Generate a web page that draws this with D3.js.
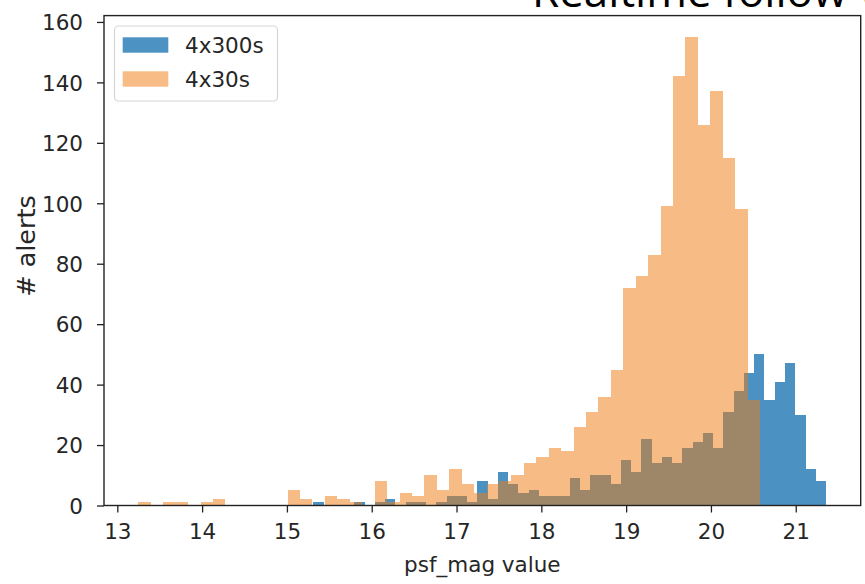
<!DOCTYPE html>
<html>
<head>
<meta charset="utf-8">
<script src="https://cdn.jsdelivr.net/npm/d3@7"></script>
<style>
  body { margin: 0; background: #fff; }
  svg { display: block; font-family: "DejaVu Sans", sans-serif; }
</style>
</head>
<body>
<div id="vis"></div>
<script>
// histogram data (matplotlib hist, 50 bins each)
var range300 = [15.312, 21.357];
var counts300 = [1, 0, 0, 0, 1, 0, 1, 2, 0, 1,
                 1, 0, 1, 3, 3, 1, 8, 2, 11, 7,
                 4, 5, 3, 3, 3, 9, 5, 10, 10, 7,
                 15, 11, 22, 14, 16, 14, 19, 21, 24, 19,
                 31, 38, 44, 50, 35, 41, 47, 30, 12, 8];

var range30 = [13.249, 20.579];
var counts30 = [1, 0, 1, 1, 0, 1, 2, 0, 0, 0,
                0, 0, 5, 2, 0, 3, 2, 1, 0, 8,
                1, 4, 3, 10, 5, 12, 7, 4, 7, 8,
                10, 14, 16, 19, 18, 26, 31, 36, 45, 72,
                76, 83, 99, 142, 155, 126, 137, 115, 98, 35];

var seriesNames = ['4x300s', '4x30s'];
var xTicks = [13, 14, 15, 16, 17, 18, 19, 20, 21];
var yTicks = [0, 20, 40, 60, 80, 100, 120, 140, 160];

var width = 865;
var height = 584;
var plot = {left: 104, top: 15.6, right: 860.7, bottom: 505.5};

// colours + alpha of the two series
var blue = '#1f77b4', blueAlpha = 0.8;
var orange = '#f17c10', orangeAlpha = 0.5;

var x = d3.scaleLinear().domain([12.843, 21.766]).range([plot.left, plot.right]);
var y = d3.scaleLinear().domain([0, 162.1]).range([plot.bottom, plot.top]);

// turn range + counts into bins
function makeBins(range, counts) {
    var w = (range[1] - range[0]) / counts.length;
    return counts.map(function (c, i) {
        return {x0: range[0] + i * w, x1: range[0] + (i + 1) * w, n: c};
    });
}

var svg = d3.select('#vis').append('svg')
    .attr('width', width)
    .attr('height', height);

// slide title, cut off by the top edge like in the screenshot
svg.append('text')
    .attr('x', 532)
    .attr('y', 7)
    .attr('font-family', 'Open Sans, sans-serif')
    .attr('font-size', 44)
    .attr('fill', '#000')
    .text('Realtime follow-up');

// bars: opaque, pixel snapped rects inside a translucent group -> no seams
function drawHist(bins, color, alpha) {
    var g = svg.append('g').attr('opacity', alpha);
    g.selectAll('rect')
        .data(bins.filter(function (d) { return d.n > 0; }))
        .enter().append('rect')
        .attr('shape-rendering', 'crispEdges')
        .attr('x', function (d) { return Math.round(x(d.x0)); })
        .attr('width', function (d) { return Math.round(x(d.x1)) - Math.round(x(d.x0)); })
        .attr('y', function (d) { return Math.round(y(d.n)); })
        .attr('height', function (d) { return Math.round(y(0)) - Math.round(y(d.n)); })
        .attr('fill', color);
}

drawHist(makeBins(range300, counts300), blue, blueAlpha);
drawHist(makeBins(range30, counts30), orange, orangeAlpha);

// axes
var xAxis = svg.append('g')
    .attr('transform', 'translate(0,' + plot.bottom + ')')
    .call(d3.axisBottom(x).tickValues(xTicks).tickSize(7).tickPadding(10).tickSizeOuter(0));
var yAxis = svg.append('g')
    .attr('transform', 'translate(' + plot.left + ',0)')
    .call(d3.axisLeft(y).tickValues(yTicks).tickSize(7).tickPadding(14).tickSizeOuter(0));

[xAxis, yAxis].forEach(function (a) {
    a.select('.domain').remove();
    a.selectAll('.tick line').attr('stroke', '#222').attr('stroke-width', 1.3);
    a.selectAll('.tick text')
        .attr('fill', '#262626')
        .attr('font-size', 21.5)
        .attr('font-family', 'DejaVu Sans, sans-serif');
});
yAxis.selectAll('.tick text').attr('dy', '0.36em');
xAxis.selectAll('.tick text').attr('dy', '0.76em');

// frame
svg.append('rect')
    .attr('x', plot.left)
    .attr('y', plot.top)
    .attr('width', plot.right - plot.left)
    .attr('height', plot.bottom - plot.top)
    .attr('fill', 'none')
    .attr('stroke', '#222')
    .attr('stroke-width', 1.4);

// axis labels
svg.append('text')
    .attr('x', (plot.left + plot.right) / 2)
    .attr('y', 571.5)
    .attr('text-anchor', 'middle')
    .attr('font-size', 21.5)
    .attr('fill', '#262626')
    .text('psf_mag value');

svg.append('text')
    .attr('transform', 'translate(35,246) rotate(-90)')
    .attr('text-anchor', 'middle')
    .attr('font-size', 25.5)
    .attr('fill', '#262626')
    .text('# alerts');

// legend
var legend = svg.append('g');
legend.append('rect')
    .attr('x', 114.5)
    .attr('y', 26)
    .attr('width', 163)
    .attr('height', 75)
    .attr('rx', 4)
    .attr('fill', '#fff')
    .attr('fill-opacity', 0.8)
    .attr('stroke', '#d6d6d6')
    .attr('stroke-width', 1.2);

var legendColors = [[blue, blueAlpha], [orange, orangeAlpha]];
seriesNames.forEach(function (name, i) {
    var cy = 45 + i * 34;
    legend.append('rect')
        .attr('x', 122.7)
        .attr('y', cy - 7.7)
        .attr('width', 45.6)
        .attr('height', 15.4)
        .attr('fill', legendColors[i][0])
        .attr('fill-opacity', legendColors[i][1]);
    legend.append('text')
        .attr('x', 185)
        .attr('y', cy)
        .attr('dy', '0.36em')
        .attr('font-size', 21.5)
        .attr('fill', '#262626')
        .text(name);
});
</script>
</body>
</html>
